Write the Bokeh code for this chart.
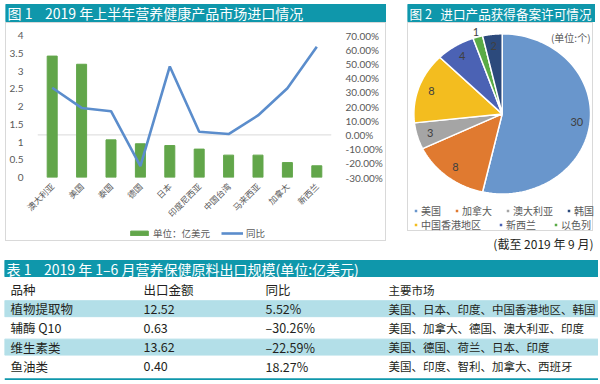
import math
import numpy as np
from bokeh.plotting import figure
from bokeh.models import (Range1d, FactorRange, LinearAxis, NumeralTickFormatter,
                          FixedTicker, Span, Legend, LegendItem, Spacer, ColumnDataSource)
from bokeh.layouts import row, column
from bokeh.core.properties import value
from bokeh.embed import file_html
from bokeh.resources import INLINE

CJK = "Noto Sans CJK SC"
NUM = "Lato"
TEAL = "#0f97ab"
ROW_BG = "#b3dfe8"
TXT = "#231f20"
GRAY_TXT = "#595959"
GREEN = "#62a64a"
BLUE = "#5b8dcc"
BOX = "#d9d9d9"
NB = "\u00a0"
NAN = float("nan")

# ---------------- data ----------------
fig1_title = "图 1" + NB * 4 + "2019 年上半年营养健康产品市场进口情况"
countries = ["澳大利亚", "美国", "泰国", "德国", "日本", "印度尼西亚",
             "中国台湾", "马来西亚", "加拿大", "新西兰"]
import_value = [3.42, 3.19, 1.06, 0.95, 0.90, 0.80, 0.63, 0.63, 0.42, 0.33]
import_yoy = [0.332, 0.19, 0.167, -0.22, 0.482, 0.022, 0.006, 0.137, 0.328, 0.62]
bar_label = "单位：亿美元"
line_label = "同比"
value_ticks = [0, 0.5, 1, 1.5, 2, 2.5, 3, 3.5, 4]
yoy_ticks = [-0.3, -0.2, -0.1, 0, 0.1, 0.2, 0.3, 0.4, 0.5, 0.6, 0.7]

fig2_title = "图 2" + NB * 3 + "进口产品获得备案许可情况"
pie_regions = ["美国", "加拿大", "澳大利亚", "中国香港地区", "新西兰", "以色列", "韩国"]
pie_counts = [30, 8, 3, 8, 4, 1, 2]
pie_colors = ["#6996cc", "#e07a30", "#a5a5a5", "#f3bd1f", "#4b62b4", "#5aab46", "#2c4a7c"]
legend_row1 = ["美国", "加拿大", "澳大利亚", "韩国"]
legend_row2 = ["中国香港地区", "新西兰", "以色列"]
pie_unit = "(单位:个)"
pie_note = "(截至 2019 年 9 月)"

table_title = "表 1" + NB * 4 + "2019 年 1–6 月营养保健原料出口规模(单位:亿美元)"
table_header = ["品种", "出口金额", "同比", "主要市场"]
products = ["植物提取物", "辅酶 Q10", "维生素类", "鱼油类"]
export_value = [12.52, 0.63, 13.62, 0.40]
export_yoy = [5.52, -30.26, -22.59, 18.27]
main_markets = ["美国、日本、印度、中国香港地区、韩国",
                "美国、加拿大、德国、澳大利亚、印度",
                "美国、德国、荷兰、日本、印度",
                "美国、印度、智利、加拿大、西班牙"]


def no_align(p):
    try:
        p.frame_align = False
    except Exception:
        pass


def plain_fig(w, h, xr, yr, **kw):
    p = figure(width=w, height=h, x_range=xr, y_range=yr, output_backend="svg",
               toolbar_location=None, tools="", title=None,
               x_axis_type=None, y_axis_type=None, **kw)
    p.outline_line_color = None
    p.grid.visible = False
    no_align(p)
    return p


def header(text, w, h, bar_top, bar_h, size):
    p = plain_fig(w, h, Range1d(0, w), Range1d(h, 0), min_border=0)
    p.quad(left=0, right=w, top=bar_top, bottom=bar_top + bar_h, color=TEAL)
    p.text(x=[2], y=[bar_top + bar_h / 2], text=[text], text_font=value(CJK),
           text_font_size=f"{size}px", text_color="white", text_baseline="middle")
    return p


# ---------------- chart 1 ----------------
h1 = header(fig1_title, 381, 22, 4, 17, 14)

p1 = figure(width=379, height=203, x_range=FactorRange(*countries), y_range=Range1d(0, 4),
            output_backend="svg", toolbar_location=None, tools="", title=None,
            min_border_left=27, min_border_right=47, min_border_top=12, min_border_bottom=42)
no_align(p1)
p1.outline_line_color = None
p1.xgrid.visible = False
p1.ygrid.visible = False
p1.extra_y_ranges = {"pct": Range1d(-0.3, 0.7)}

ax_l = p1.left[0]
ax_l.ticker = FixedTicker(ticks=value_ticks)
ax_l.formatter = NumeralTickFormatter(format="0.[0]")
ax_r = LinearAxis(y_range_name="pct", ticker=FixedTicker(ticks=yoy_ticks),
                  formatter=NumeralTickFormatter(format="0.00%"))
p1.add_layout(ax_r, "right")
for ax in (ax_l, ax_r):
    ax.axis_line_color = None
    ax.major_tick_line_color = None
    ax.minor_tick_line_color = None
    ax.major_label_text_font = NUM
    ax.major_label_text_font_size = "10px"
    ax.major_label_text_color = GRAY_TXT
    ax.major_label_standoff = 8

ax_b = p1.below[0]
ax_b.axis_line_color = None
ax_b.major_tick_line_color = None
ax_b.major_label_orientation = math.pi / 4
ax_b.major_label_text_font = CJK
ax_b.major_label_text_font_size = "8.5px"
ax_b.major_label_text_color = GRAY_TXT
ax_b.major_label_standoff = 1

zero = Span(location=0, dimension="width", y_range_name="pct",
            line_color=BOX, line_width=1, level="underlay")
p1.add_layout(zero)

p1.vbar(x=countries, top=import_value, width=0.34, color=GREEN)
p1.line(x=countries, y=import_yoy, y_range_name="pct", line_color=BLUE, line_width=2.6)

# legend strip of chart 1 (own small figure; hidden stand-in renderers carry the series styles)
lf = plain_fig(379, 14, Range1d(0, 379), Range1d(0, 14), min_border=0)
lbar = lf.vbar(x=[NAN], top=[NAN], width=1, color=GREEN)
lline = lf.line(x=[NAN, NAN], y=[NAN, NAN], line_color=BLUE, line_width=2.6)
leg1 = Legend(items=[LegendItem(label=bar_label, renderers=[lbar]),
                     LegendItem(label=line_label, renderers=[lline])],
              orientation="horizontal", location=(122, 0), glyph_width=22, glyph_height=6,
              label_standoff=3, spacing=11, padding=0, margin=0, label_height=11,
              label_text_font=CJK, label_text_font_size="9.5px", label_text_color=GRAY_TXT,
              background_fill_alpha=0, border_line_color=None)
lf.add_layout(leg1)

box1 = column(p1, lf, spacing=0, styles={"border": f"1px solid {BOX}"})

# ---------------- chart 2 ----------------
h2 = header(fig2_title, 188, 22, 4, 17, 12.6)

p2 = plain_fig(186, 209, Range1d(-1.061, 1.045), Range1d(-1.481, 1.129), min_border=0)
p2.styles = {"border": f"1px solid {BOX}"}

tot = float(sum(pie_counts))
cum = np.cumsum([0] + pie_counts) / tot
a_start = np.pi / 2 - 2 * np.pi * cum[:-1]
a_end = np.pi / 2 - 2 * np.pi * cum[1:]
xs, ys = [], []
for a0, a1 in zip(a_start, a_end):
    t = np.linspace(a0, a1, 90)
    xs.append([0.0] + list(np.cos(t)) + [0.0])
    ys.append([0.0] + list(np.sin(t)) + [0.0])
pie_src = ColumnDataSource(dict(xs=xs, ys=ys, color=pie_colors, region=pie_regions))
pie = p2.patches("xs", "ys", source=pie_src, fill_color="color", line_color="white", line_width=1.5)

mid = (a_start + a_end) / 2
share = np.array(pie_counts) / tot
rr = np.where(share < 0.025, 1.07, 0.85)
p2.text(x=rr * np.cos(mid), y=rr * np.sin(mid), text=[str(c) for c in pie_counts],
        text_font=value(NUM), text_font_size="11px", text_color="#404040",
        text_align="center", text_baseline="middle")
p2.text(x=[1.0], y=[0.954], text=[pie_unit], text_font=value(CJK), text_font_size="10px",
        text_color=GRAY_TXT, text_align="right", text_baseline="middle")

idx = {r: i for i, r in enumerate(pie_regions)}
for names, ypos, sp in ((legend_row1, 14, 13), (legend_row2, 0, 17)):
    lg = Legend(items=[LegendItem(label=n, renderers=[pie], index=idx[n]) for n in names],
                orientation="horizontal", location=(5, ypos), glyph_width=5, glyph_height=5,
                label_standoff=3, spacing=sp, padding=0, margin=0, label_height=11,
                label_text_font=CJK, label_text_font_size="10px", label_text_color=GRAY_TXT,
                background_fill_alpha=0, border_line_color=None)
    p2.add_layout(lg)

note = plain_fig(188, 26, Range1d(0, 188), Range1d(26, 0), min_border=0)
note.text(x=[186], y=[12], text=[pie_note], text_font=value(CJK), text_font_size="12px",
          text_color=TXT, text_align="right", text_baseline="middle")

# ---------------- table ----------------
h3 = header(table_title, 594, 21, 3, 16, 14)

n = len(products)
pitch = 19.2
p3 = plain_fig(594, 102, Range1d(0, 594), Range1d((102 - 11) / pitch, -11 / pitch), min_border=0)
p3.hbar(y=[i + 1 for i in range(n) if i % 2 == 0], left=0, right=594, height=0.83,
        color=ROW_BG)
p3.add_layout(Span(location=n + 0.69, dimension="width", line_color=TEAL, line_width=2.5))

col_x = [6, 139, 261, 384]
ty, tx, tt = [], [], []
for j in range(3):
    tx.append(col_x[j]); ty.append(0); tt.append(table_header[j])
for i in range(n):
    cells = [products[i], f"{export_value[i]:.2f}", f"{export_yoy[i]:.2f}%".replace("-", "–")]
    for j, c in enumerate(cells):
        tx.append(col_x[j]); ty.append(i + 1); tt.append(c)
p3.text(x=tx, y=ty, text=tt, text_font=value(CJK), text_font_size="12.5px", text_color=TXT,
        text_baseline="middle")
p3.text(x=[col_x[3]] * (n + 1), y=list(range(n + 1)), text=[table_header[3]] + main_markets,
        text_font=value(CJK), text_font_size="11.5px", text_color=TXT, text_baseline="middle")

# ---------------- layout ----------------
col_a = column(h1, box1, spacing=0)
col_b = column(h2, p2, note, spacing=0)
top = row(Spacer(width=5, height=1), col_a, Spacer(width=21, height=1), col_b, spacing=0)
bottom = row(Spacer(width=4, height=1), column(h3, p3, spacing=0), spacing=0)
page = column(top, bottom, spacing=0)

open("out.html", "w").write(file_html(page, INLINE))
